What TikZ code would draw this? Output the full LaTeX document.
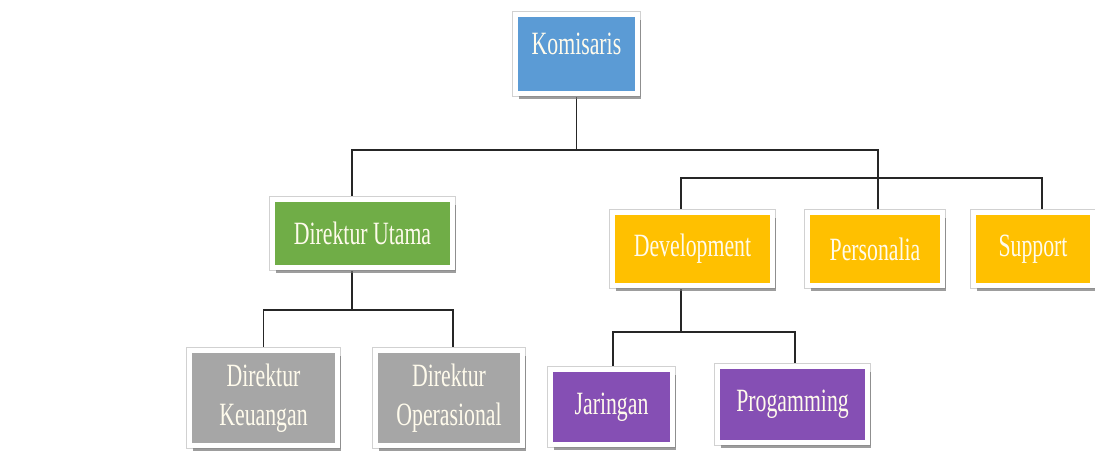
\documentclass[tikz,border=0pt]{standalone}
\usepackage{fontspec}
\usepackage{xcolor}
\usepackage{tikz}
\usetikzlibrary{calc, backgrounds, shadows}

\newfontfamily\boxfont[FakeStretch=0.67]{Liberation Serif}

\definecolor{komblue}{RGB}{91,155,213}
\definecolor{utgreen}{RGB}{112,173,71}
\definecolor{divgold}{RGB}{255,192,0}
\definecolor{subpurple}{RGB}{133,79,180}
\definecolor{dirgray}{RGB}{166,166,166}
\definecolor{boxtext}{RGB}{255,251,236}

\begin{document}
\begin{tikzpicture}[
    x=0.02cm, y=-0.02cm,
    unit/.style={draw=white, line width=0.1cm, rectangle, align=center, inner sep=2pt,
      font=\boxfont\fontsize{18.5}{22.5}\selectfont, text=boxtext,
      preaction={draw=black!18, line width=0.125cm},
      drop shadow={shadow xshift=0.07cm, shadow yshift=-0.11cm, fill=black!55, opacity=0.7}},
    link/.style={line width=0.8pt, draw=black!85}
]
\useasboundingbox (0,0) rectangle (1095,457);

% Top
\node[unit, fill=komblue, minimum width=2.44cm, minimum height=1.58cm, text depth=0.43cm] (kom) at (576.5,54) {Komisaris};

% Level 1
\node[unit, fill=utgreen, minimum width=3.6cm, minimum height=1.36cm] (du) at (362.5,233.5) {Direktur Utama};
\node[unit, fill=divgold, minimum width=3.2cm, minimum height=1.46cm] (dev) at (692.5,249) {Development};
\node[unit, fill=divgold, minimum width=2.7cm, minimum height=1.46cm] (per) at (875,249) {Personalia};
\node[unit, fill=divgold, minimum width=2.38cm, minimum height=1.46cm] (sup) at (1033,249) {Support};

% Level 2 under Direktur Utama
\node[unit, fill=dirgray, minimum width=2.96cm, minimum height=1.9cm] (keu) at (263.5,398) {Direktur\\Keuangan};
\node[unit, fill=dirgray, minimum width=2.94cm, minimum height=1.9cm] (ops) at (449,398) {Direktur\\Operasional};

% Level 2 under Development
\node[unit, fill=subpurple, minimum width=2.44cm, minimum height=1.5cm] (jar) at (611.5,407) {Jaringan};
\node[unit, fill=subpurple, minimum width=3.0cm, minimum height=1.52cm] (prog) at (792.5,404.5) {Progamming};

\begin{scope}[on background layer]
\coordinate (b1) at (576.5,150);
\coordinate (b2) at (878,178);
\coordinate (b3) at (352,310);
\coordinate (b4) at (681,332);

\draw[link] (kom.south) -- (b1);
\draw[link] (b1) -| ($(du.north)+(-10.5,0)$);
\draw[link] (b1) -| ($(per.north)+(3,0)$);
\draw[link] (b2) -| ($(dev.north)+(-11.5,0)$);
\draw[link] (b2) -| ($(sup.north)+(9,0)$);

\draw[link] ($(du.south)+(-10.5,0)$) -- (b3);
\draw[link] (b3) -| (keu.north);
\draw[link] (b3) -| ($(ops.north)+(4,0)$);

\draw[link] ($(dev.south)+(-11.5,0)$) -- (b4);
\draw[link] (b4) -| ($(jar.north)+(1.5,0)$);
\draw[link] (b4) -| ($(prog.north)+(2.5,0)$);
\end{scope}
\end{tikzpicture}
\end{document}
